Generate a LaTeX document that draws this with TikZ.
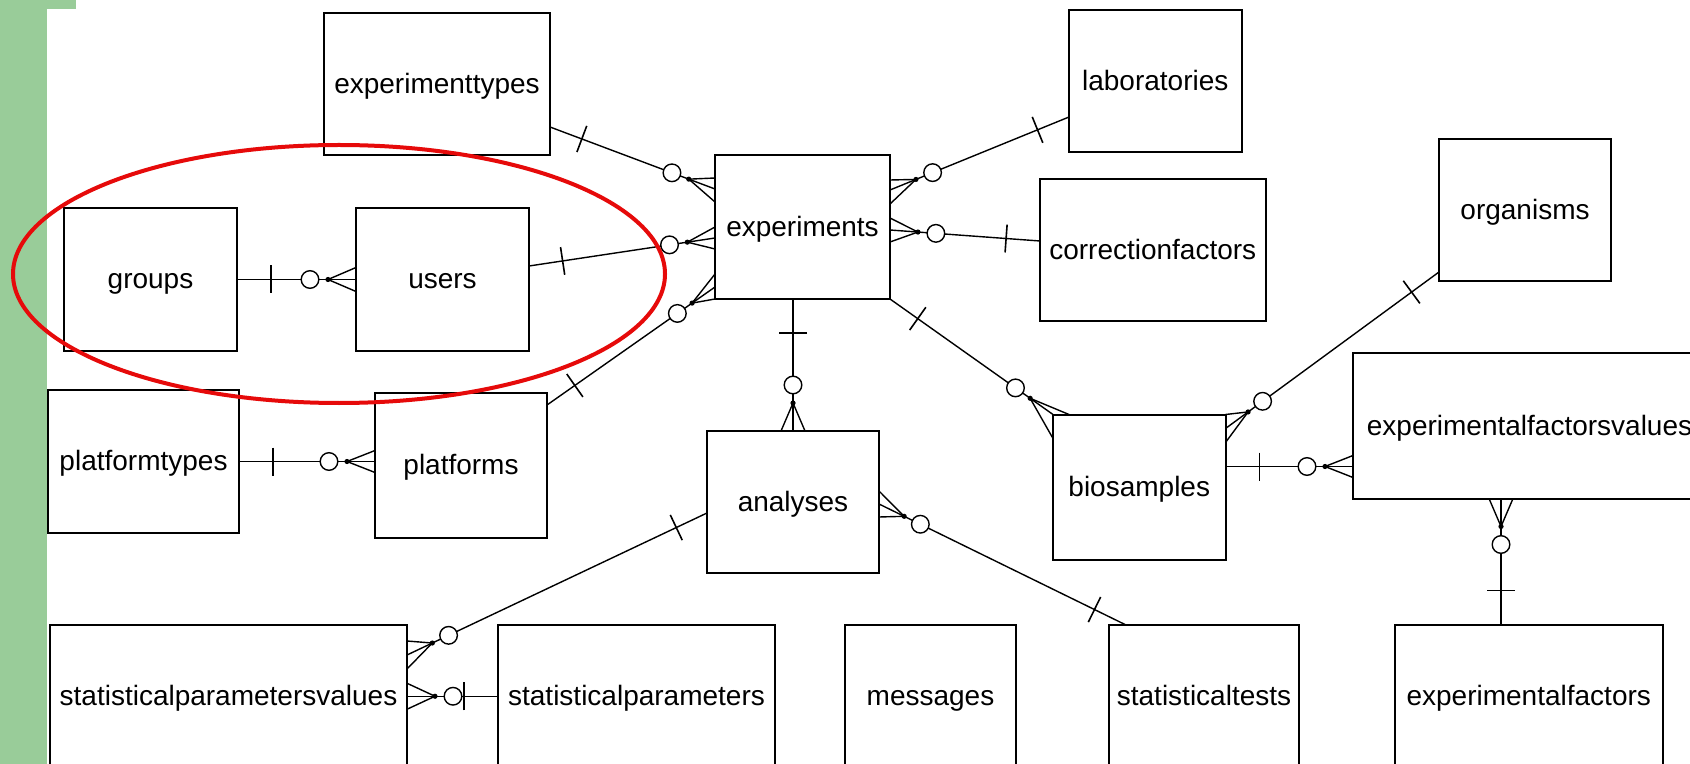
\documentclass[tikz,border=0pt]{standalone}
\usepackage{fontspec}
\setmainfont{Liberation Sans}
\usetikzlibrary{calc}
\definecolor{sidegreen}{RGB}{153,204,153}
\definecolor{markred}{RGB}{230,10,10}
\tikzset{
  ent/.style={draw=black, line width=1pt, inner sep=0pt, outer sep=0pt, fill=white,
              text height=11pt, text depth=1.7pt,
              font=\fontsize{14}{16}\selectfont, text=black},
  conn/.style={draw=black, line width=0.7pt},
  barline/.style={draw=black, line width=0.8pt},
}
\newcommand\erlink[4]{%
  \coordinate (ra) at (#1);
  \coordinate (rb) at (#2);
  \coordinate (rbar) at ($(ra)!17pt!(rb)$);
  \coordinate (rcirc) at ($(rb)!23pt!(ra)$);
  \coordinate (rdot) at ($(rb)!14pt!(ra)$);
  \draw[conn] (ra) -- (rb);
  \draw[barline] ($(rbar)!7pt!90:(rb)$) -- ($(rbar)!7pt!-90:(rb)$);
  \draw[conn, fill=white] (rcirc) circle (4.4pt);
  \draw[conn] (rdot) -- ($(rb)+(#3)$) (rdot) -- ($(rb)+(#4)$);
  \fill (rdot) circle (1.3pt);
}
\begin{document}
\begin{tikzpicture}[x=0.5pt,y=-0.5pt]
\useasboundingbox (0,0) rectangle (1690,764);
\clip (0,0) rectangle (1690,764);
\fill[white] (0,0) rectangle (1690,764);
% green side bar
\fill[sidegreen] (0,0) rectangle (47,764);
\fill[sidegreen] (0,0) rectangle (76,9);

% entities
\node[ent, minimum width=113pt, minimum height=71pt] (experimenttypes) at (437,84) {experimenttypes};
\node[ent, minimum width=86.5pt, minimum height=71.5pt] (groups) at (150.5,279.5) {groups};
\node[ent, minimum width=86.5pt, minimum height=71.5pt] (users) at (442.5,279.5) {users};
\node[ent, minimum width=95.5pt, minimum height=71.5pt] (platformtypes) at (143.5,461.5) {platformtypes};
\node[ent, minimum width=86pt, minimum height=72.5pt] (platforms) at (461,465.5) {platforms};
\node[ent, minimum width=87.5pt, minimum height=72pt] (experiments) at (802.5,227) {experiments};
\node[ent, minimum width=86.25pt, minimum height=71pt] (laboratories) at (1155.25,81) {laboratories};
\node[ent, minimum width=112.75pt, minimum height=71.25pt] (correctionfactors) at (1152.75,250.25) {correctionfactors};
\node[ent, minimum width=86pt, minimum height=71pt] (organisms) at (1525,210) {organisms};
\node[ent, minimum width=86pt, minimum height=71pt] (analyses) at (793,502) {analyses};
\node[ent, minimum width=86.25pt, minimum height=72.75pt] (biosamples) at (1139.25,487.25) {biosamples};
\node[ent, minimum width=176.5pt, minimum height=72.5pt] (efv) at (1529.5,426) {experimentalfactorsvalues};
\node[ent, minimum width=178.5pt, minimum height=71.75pt] (spv) at (228.5,696.25) {statisticalparametersvalues};
\node[ent, minimum width=138.5pt, minimum height=71.75pt] (sp) at (636.5,696.25) {statisticalparameters};
\node[ent, minimum width=85.5pt, minimum height=71.75pt] (messages) at (930.5,696.25) {messages};
\node[ent, minimum width=95pt, minimum height=71.75pt] (statisticaltests) at (1204,696.25) {statisticaltests};
\node[ent, minimum width=134.25pt, minimum height=71.75pt] (experimentalfactors) at (1528.75,696.25) {experimentalfactors};

% relationships (one side first, many side second)
\erlink{groups.east}{users.west}{0,-12}{0,12}
\erlink{$(users.north east)+(0,58)$}{$(experiments.north west)+(0,83)$}{0,-11}{0,11}
\erlink{$(experimenttypes.north east)+(0,114)$}{$(experiments.north west)+(0,34)$}{0,-11}{0,13}
\erlink{$(platforms.north east)+(0,12)$}{$(experiments.south west)+(0,-12)$}{0,-13}{0,12}
\erlink{$(laboratories.north west)+(0,107)$}{$(experiments.north east)+(0,35)$}{0,-10}{0,14}
\erlink{$(correctionfactors.north west)+(0,62)$}{$(experiments.north east)+(0,75)$}{0,-12}{0,12}
\erlink{experiments.south -| analyses.north}{analyses.north}{-12,0}{12,0}
\erlink{experiments.south east}{biosamples.north west}{16,0}{0,24}
\erlink{$(organisms.south west)+(0,-9)$}{$(biosamples.north east)+(0,14)$}{0,-14}{0,14}
\erlink{$(biosamples.north east)+(0,52)$}{$(efv.north west)+(0,113)$}{0,-11}{0,11}
\coordinate (efa) at ($(experimentalfactors.north west)+(106.5,0)$);
\erlink{efa}{efa |- efv.south}{-12,0}{12,0}
\erlink{$(analyses.west)+(0,11)$}{$(spv.north east)+(0,30.5)$}{0,-14}{0,14}
\erlink{sp.west}{spv.east}{0,-13}{0,13}
\erlink{$(statisticaltests.north west)+(16,0)$}{$(analyses.east)+(0,2)$}{0,-13}{0,13}
\erlink{platformtypes.east}{platformtypes.east -| platforms.west}{0,-11}{0,11}

% red highlight
\draw[markred, line width=2pt] (339,274) ellipse [x radius=163pt, y radius=64.5pt];
\end{tikzpicture}
\end{document}
